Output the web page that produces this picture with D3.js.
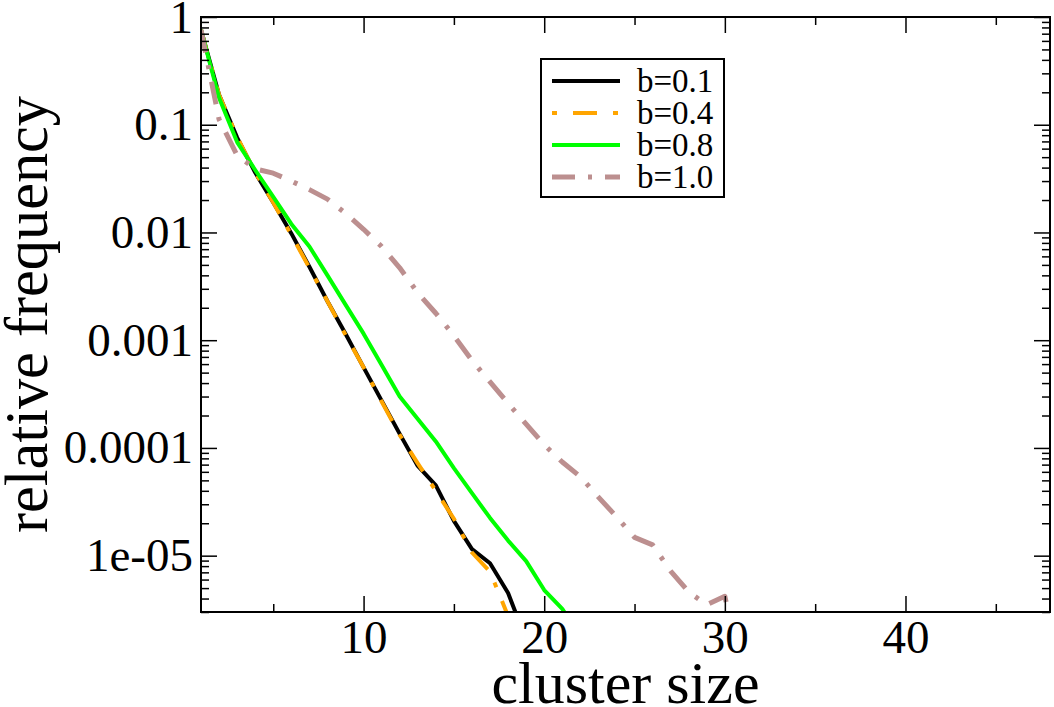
<!DOCTYPE html>
<html>
<head>
<meta charset="UTF-8" />
<title>cluster size distribution</title>
<script src="https://cdn.jsdelivr.net/npm/d3@7"></script>
<style>
  body { margin: 0; background: #fff; }
  text { font-family: "Liberation Serif", "DejaVu Serif", serif; fill: #000; }
</style>
</head>
<body>
<svg id="chart"></svg>
<script>
// cluster sizes and relative frequencies
const sizesB01 = d3.range(1, 20);
const freqB01 = [0.76, 0.19, 0.076, 0.036, 0.019, 0.0098, 0.0048, 0.0023, 0.00115, 5.6e-4,
                 2.75e-4, 1.35e-4, 6.8e-5, 4.5e-5, 2.1e-5, 1.15e-5, 8.5e-6, 4.5e-6, 1.65e-6];

const sizesB04 = d3.range(1, 19);
const freqB04 = [0.76, 0.19, 0.077, 0.036, 0.019, 0.0095, 0.0047, 0.0023, 0.00112, 5.6e-4,
                 2.7e-4, 1.32e-4, 7.2e-5, 4.0e-5, 2.2e-5, 1.07e-5, 7.1e-6, 2.75e-6];

const sizesB08 = d3.range(1, 23);
const freqB08 = [0.76, 0.178, 0.069, 0.038, 0.0214, 0.012, 0.0074, 0.004, 0.00214, 0.00115,
                 5.9e-4, 3.0e-4, 1.86e-4, 1.15e-4, 6.5e-5, 3.8e-5, 2.24e-5, 1.38e-5, 8.9e-6, 4.8e-6,
                 3.2e-6, 1.8e-6];

const sizesB10 = d3.range(1, 32);
const freqB10 = [0.76, 0.112, 0.052, 0.039, 0.0355, 0.030, 0.025, 0.0204, 0.0151, 0.0107,
                 0.0074, 0.0047, 0.00275, 0.00178, 0.0011, 6.5e-4, 4.1e-4, 2.6e-4, 1.66e-4, 1.07e-4,
                 7.4e-5, 5.4e-5, 3.5e-5, 2.3e-5, 1.48e-5, 1.26e-5, 7.2e-6, 4.6e-6, 3.5e-6, 4.2e-6,
                 7e-7];

const seriesNames = ["b=0.1", "b=0.4", "b=0.8", "b=1.0"];
const xMajor = [10, 20, 30, 40];
const xMinor = [5, 15, 25, 35, 45];
const yMajor = [1, 0.1, 0.01, 0.001, 0.0001, 0.00001];
const yMajorLabels = ["1", "0.1", "0.01", "0.001", "0.0001", "1e-05"];

const width = 1054, height = 707;
const margin = { top: 17, right: 4, bottom: 95, left: 201 };
const innerW = width - margin.left - margin.right;
const innerH = height - margin.top - margin.bottom;

const styles = [
  { color: "#000000", width: 4, dash: null },
  { color: "#ffa500", width: 4, dash: "24,15,5,15" },
  { color: "#00ff00", width: 4, dash: null },
  { color: "#bc8f8f", width: 5, dash: "23,13,4,13" }
];

const series = [
  { sizes: sizesB01, freq: freqB01 },
  { sizes: sizesB04, freq: freqB04 },
  { sizes: sizesB08, freq: freqB08 },
  { sizes: sizesB10, freq: freqB10 }
];

const svg = d3.select("#chart").attr("width", width).attr("height", height);
const g = svg.append("g").attr("transform", `translate(${margin.left},${margin.top})`);

const x = d3.scaleLinear().domain([1, 48]).range([0, innerW]);
const y = d3.scaleLog().domain([3e-6, 1]).range([innerH, 0]);

// minor log ticks 2..9 per decade
const yMinor = [];
for (let e = -6; e <= 0; e++) {
  for (let m = 2; m <= 9; m++) {
    const v = m * Math.pow(10, e);
    if (v >= 3e-6 && v < 1) yMinor.push(v);
  }
}

g.append("defs").append("clipPath").attr("id", "clip")
  .append("rect").attr("width", innerW).attr("height", innerH);

// curves
const line = d3.line().x(d => x(d[0])).y(d => y(d[1]));
const curves = g.append("g").attr("clip-path", "url(#clip)");
series.forEach((s, i) => {
  const pts = s.sizes.map((c, k) => [c, s.freq[k]]);
  curves.append("path")
    .datum(pts)
    .attr("fill", "none")
    .attr("stroke", styles[i].color)
    .attr("stroke-width", styles[i].width)
    .attr("stroke-dasharray", styles[i].dash)
    .attr("stroke-linejoin", "round")
    .attr("d", line);
});

// axes, ticks pointing inward on all four sides
function styleAxis(sel) {
  sel.select(".domain").remove();
  sel.selectAll(".tick line").attr("stroke", "#000").attr("stroke-width", 1.5);
  sel.selectAll("text").style("font-size", "47px").attr("font-family", "Liberation Serif, serif");
}

g.append("g").attr("transform", `translate(0,${innerH})`)
  .call(d3.axisBottom(x).tickValues(xMajor).tickSize(-16).tickPadding(8).tickFormat(d3.format("d")))
  .call(styleAxis);
g.append("g").attr("transform", `translate(0,${innerH})`)
  .call(d3.axisBottom(x).tickValues(xMinor).tickSize(-8).tickFormat(""))
  .call(styleAxis);
g.append("g")
  .call(d3.axisTop(x).tickValues(xMajor).tickSize(-16).tickFormat(""))
  .call(styleAxis);
g.append("g")
  .call(d3.axisTop(x).tickValues(xMinor).tickSize(-8).tickFormat(""))
  .call(styleAxis);

g.append("g")
  .call(d3.axisLeft(y).tickValues(yMajor).tickSize(-16).tickPadding(8)
    .tickFormat((d, i) => yMajorLabels[i]))
  .call(styleAxis);
g.append("g")
  .call(d3.axisLeft(y).tickValues(yMinor).tickSize(-8).tickFormat(""))
  .call(styleAxis);
g.append("g").attr("transform", `translate(${innerW},0)`)
  .call(d3.axisRight(y).tickValues(yMajor).tickSize(-16).tickFormat(""))
  .call(styleAxis);
g.append("g").attr("transform", `translate(${innerW},0)`)
  .call(d3.axisRight(y).tickValues(yMinor).tickSize(-8).tickFormat(""))
  .call(styleAxis);

// frame
g.append("rect")
  .attr("width", innerW).attr("height", innerH)
  .attr("fill", "none").attr("stroke", "#000").attr("stroke-width", 2);

// axis titles
svg.append("text")
  .attr("x", margin.left + innerW / 2).attr("y", 703)
  .attr("text-anchor", "middle")
  .attr("textLength", 268).attr("lengthAdjust", "spacingAndGlyphs")
  .style("font-size", "60px")
  .text("cluster size");

svg.append("text")
  .attr("transform", `translate(47,${margin.top + innerH / 2}) rotate(-90)`)
  .attr("text-anchor", "middle")
  .attr("textLength", 437).attr("lengthAdjust", "spacingAndGlyphs")
  .style("font-size", "62px")
  .text("relative frequency");

// legend
const legend = svg.append("g").attr("transform", "translate(541,59)");
legend.append("rect")
  .attr("width", 183).attr("height", 138)
  .attr("fill", "#fff").attr("stroke", "#000").attr("stroke-width", 2);

const rows = legend.selectAll(".row").data(seriesNames).enter().append("g")
  .attr("transform", (d, i) => `translate(0,${22 + i * 32})`);
rows.append("line")
  .attr("x1", 11).attr("x2", 79)
  .attr("stroke", (d, i) => styles[i].color)
  .attr("stroke-width", (d, i) => styles[i].width)
  .attr("stroke-dasharray", (d, i) => i === 1 ? "5,16,24,16" : styles[i].dash);
rows.append("text")
  .attr("x", 96).attr("y", 11)
  .style("font-size", "33px")
  .text(d => d);
</script>
</body>
</html>
